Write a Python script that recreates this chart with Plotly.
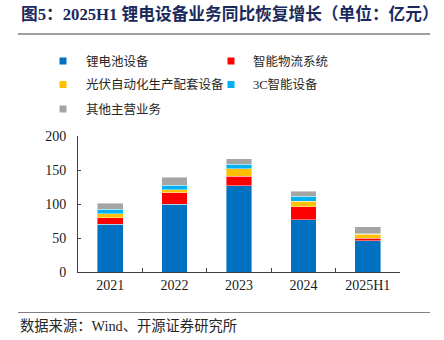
import plotly.graph_objects as go

# Revenue by business line (亿元)
years = ["2021", "2022", "2023", "2024", "2025H1"]
lithium = [70.0, 99.8, 126.9, 77.0, 45.6]
logistics = [10.0, 16.6, 13.7, 18.6, 3.8]
pv = [6.0, 4.4, 10.9, 8.8, 6.3]
smart_3c = [6.0, 6.6, 6.7, 6.8, 0.3]
other = [9.0, 12.3, 8.4, 7.9, 10.4]

series_names = ["锂电池设备", "智能物流系统", "光伏自动化生产配套设备", "3C智能设备", "其他主营业务"]
series_colors = ["#0070C0", "#FF0000", "#FFC000", "#00B0F0", "#A5A5A5"]
series_values = [lithium, logistics, pv, smart_3c, other]

y_ticks = [0, 50, 100, 150, 200]

title_text = "图5：2025H1 锂电设备业务同比恢复增长（单位：亿元）"
source_text = "数据来源：Wind、开源证券研究所"

W, H = 444, 340
L, R, T, B = 78, 400, 136, 272  # plot area in pixels

SERIF = "Liberation Serif, Times New Roman, Noto Sans CJK SC, serif"


def px_x(px):
    return (px - L) / (R - L)


def px_y(py):
    return (B - py) / (B - T)


fig = go.Figure()
for name, color, vals in zip(series_names, series_colors, series_values):
    fig.add_trace(go.Bar(
        x=years, y=vals, name=name,
        marker=dict(color=color, line=dict(width=0.6, color="rgba(255,255,255,0.7)")),
        showlegend=False,
    ))

shapes = []
annotations = []

# title and its rule
annotations.append(dict(
    text=title_text, xref="paper", yref="paper", x=px_x(19), y=px_y(14),
    xanchor="left", yanchor="middle", showarrow=False,
    font=dict(family=SERIF, size=16.7, color="#1B2A5C", weight="bold"),
))
shapes.append(dict(type="line", xref="paper", yref="paper",
                   x0=px_x(18), x1=px_x(430), y0=px_y(34), y1=px_y(34),
                   line=dict(color="#7F7F7F", width=1.5)))

# legend, two columns
legend_pos = [(63, 84, 61), (231, 251, 61), (63, 84, 84.5), (231, 251, 84.5), (63, 84, 109)]
for (mx, tx, yc), name, color in zip(legend_pos, series_names, series_colors):
    shapes.append(dict(type="rect", xref="paper", yref="paper",
                       x0=px_x(mx - 3.5), x1=px_x(mx + 3.5),
                       y0=px_y(yc + 3.5), y1=px_y(yc - 3.5),
                       fillcolor=color, line=dict(width=0)))
    annotations.append(dict(
        text=name, xref="paper", yref="paper", x=px_x(tx), y=px_y(yc),
        xanchor="left", yanchor="middle", showarrow=False,
        font=dict(family=SERIF, size=12.5, color="#262626"),
    ))

# source rule and note
shapes.append(dict(type="line", xref="paper", yref="paper",
                   x0=px_x(18), x1=px_x(430), y0=px_y(312.5), y1=px_y(312.5),
                   line=dict(color="#7F7F7F", width=1.2)))
annotations.append(dict(
    text=source_text, xref="paper", yref="paper", x=px_x(18), y=px_y(326),
    xanchor="left", yanchor="middle", showarrow=False,
    font=dict(family=SERIF, size=14.3, color="#262626"),
))

fig.update_layout(
    width=W, height=H,
    margin=dict(l=L, r=W - R, t=T, b=H - B, pad=0),
    barmode="stack", bargap=0.6,
    paper_bgcolor="white", plot_bgcolor="white",
    shapes=shapes, annotations=annotations,
    font=dict(family=SERIF, color="#262626"),
    xaxis=dict(
        type="category", showline=True, linecolor="#404040", linewidth=1.2,
        ticks="inside", tickson="boundaries", ticklen=4, tickcolor="#404040",
        tickfont=dict(family=SERIF, size=14, color="#1a1a1a"),
        showgrid=False, zeroline=False,
    ),
    yaxis=dict(
        range=[0, 200], tickvals=y_ticks, showline=True, linecolor="#404040", linewidth=1,
        ticks="inside", ticklen=3, tickcolor="#404040",
        tickfont=dict(family=SERIF, size=14, color="#1a1a1a"),
        showgrid=False, zeroline=False, ticklabelstandoff=8,
    ),
)

fig.write_html("out.html")
